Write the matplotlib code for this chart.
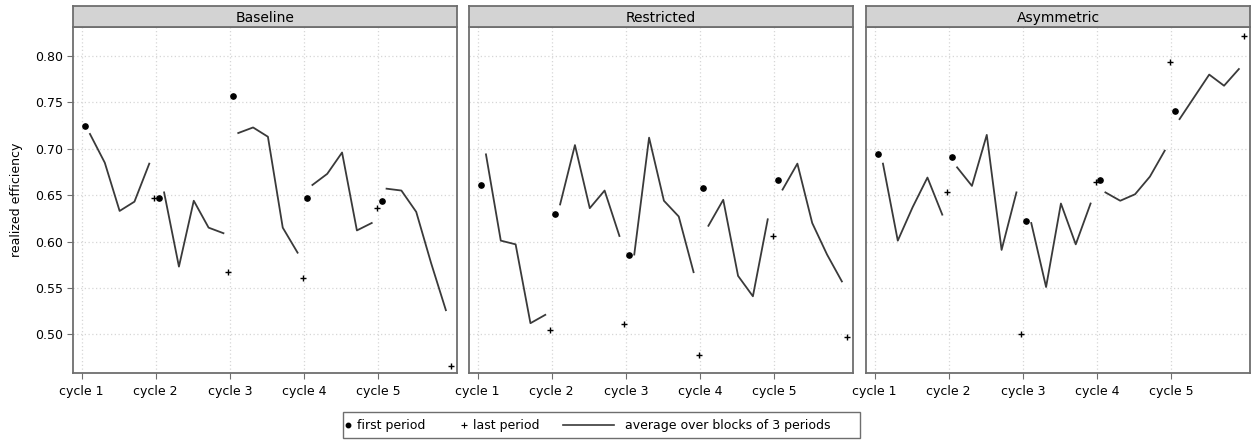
"""
Realized efficiency per cycle, three treatments (facet panels).
"""

import matplotlib
matplotlib.use("Agg")
import matplotlib.pyplot as plt
from matplotlib.lines import Line2D
from matplotlib.patches import Rectangle


# === DATA ===
PANELS = ["Baseline", "Restricted", "Asymmetric"]
CYCLE_LABELS = ["cycle 1", "cycle 2", "cycle 3", "cycle 4", "cycle 5"]
PERIODS_PER_CYCLE = 15
BLOCK_CENTERS = [2, 5, 8, 11, 14]  # period within cycle, blocks of 3

first_baseline = [0.725, 0.647, 0.757, 0.647, 0.644]
last_baseline = [0.647, 0.567, 0.561, 0.636, 0.466]
avg_baseline = [
    [0.716, 0.685, 0.633, 0.643, 0.684],
    [0.653, 0.573, 0.644, 0.615, 0.609],
    [0.717, 0.723, 0.713, 0.615, 0.588],
    [0.661, 0.673, 0.696, 0.612, 0.620],
    [0.657, 0.655, 0.632, 0.577, 0.526],
]

first_restricted = [0.661, 0.630, 0.585, 0.658, 0.666]
last_restricted = [0.505, 0.511, 0.478, 0.606, 0.497]
avg_restricted = [
    [0.694, 0.601, 0.597, 0.512, 0.521],
    [0.640, 0.704, 0.636, 0.655, 0.606],
    [0.586, 0.712, 0.644, 0.627, 0.567],
    [0.617, 0.645, 0.563, 0.541, 0.624],
    [0.656, 0.684, 0.620, 0.586, 0.557],
]

first_asym = [0.694, 0.691, 0.622, 0.666, 0.741]
last_asym = [0.653, 0.500, 0.664, 0.794, 0.822]
avg_asym = [
    [0.684, 0.601, 0.637, 0.669, 0.629],
    [0.680, 0.660, 0.715, 0.591, 0.653],
    [0.620, 0.551, 0.641, 0.597, 0.641],
    [0.653, 0.644, 0.651, 0.670, 0.698],
    [0.732, 0.756, 0.780, 0.768, 0.786],
]

FIRST = [first_baseline, first_restricted, first_asym]
LAST = [last_baseline, last_restricted, last_asym]
AVG = [avg_baseline, avg_restricted, avg_asym]

Y_TICKS = [0.50, 0.55, 0.60, 0.65, 0.70, 0.75, 0.80]

# === LAYOUT (pixels) ===
W, H = 1253, 447
PANEL_LEFT = [73, 469, 866]
PANEL_W = 384
PLOT_TOP, PLOT_BOT = 27, 373
STRIP_TOP = 6

FRAME = "#6e6e6e"
GRID = "#d6d6d6"
LINE = "#3a3a3a"

plt.rcParams["font.family"] = "DejaVu Sans"
plt.rcParams["font.size"] = 9

fig = plt.figure(figsize=(W / 100, H / 100), dpi=100)


def frac(x0, y0, x1, y1):
    return [x0 / W, 1 - y1 / H, (x1 - x0) / W, (y1 - y0) / H]


for i, name in enumerate(PANELS):
    x0 = PANEL_LEFT[i]
    ax = fig.add_axes(frac(x0, PLOT_TOP, x0 + PANEL_W, PLOT_BOT))
    strip = fig.add_axes(frac(x0, STRIP_TOP, x0 + PANEL_W, PLOT_TOP))

    for c in range(5):
        base = c * PERIODS_PER_CYCLE
        xs = [base + b for b in BLOCK_CENTERS]
        ax.plot(xs, AVG[i][c], color=LINE, lw=1.3, zorder=3)
        ax.plot(base + 1, FIRST[i][c], "o", color="black", ms=3.8, zorder=4)
        ax.plot(base + PERIODS_PER_CYCLE, LAST[i][c], "+", color="black",
                ms=5, mew=1.0, zorder=4)

    cycle_ticks = [c * PERIODS_PER_CYCLE + 0.3 for c in range(5)]
    ax.set_xticks(cycle_ticks)
    ax.set_xticklabels(CYCLE_LABELS)
    ax.set_yticks(Y_TICKS)
    ax.set_xlim(-1.43, 76.25)
    ax.set_ylim(0.4583, 0.8313)
    ax.grid(True, color=GRID, ls=(0, (1, 2)), lw=0.9)
    ax.set_axisbelow(True)
    for sp in ax.spines.values():
        sp.set_color(FRAME)
        sp.set_linewidth(1.3)
    ax.tick_params(axis="x", direction="out", length=4, color=FRAME,
                   pad=5, labelsize=9)
    if i == 0:
        ax.set_yticklabels([f"{v:.2f}" for v in Y_TICKS])
        ax.tick_params(axis="y", direction="out", length=4, color=FRAME,
                       pad=3, labelsize=9)
        ax.set_ylabel("realized efficiency", fontsize=9, labelpad=9)
    else:
        ax.tick_params(axis="y", left=False, labelleft=False)

    strip.set_facecolor("#d3d3d3")
    strip.set_xticks([])
    strip.set_yticks([])
    for sp in strip.spines.values():
        sp.set_color(FRAME)
        sp.set_linewidth(1.3)
    strip.text(0.5, 0.45, name, ha="center", va="center", fontsize=10,
               transform=strip.transAxes)

# legend, laid out by hand in figure pixels
ly = 1 - 425 / H
fig.patches.append(Rectangle((343 / W, 1 - 438 / H), (860 - 343) / W, 26 / H,
                             transform=fig.transFigure, fill=False,
                             edgecolor=FRAME, lw=1.0))
fig.lines.append(Line2D([348 / W], [ly], marker="o", color="black", ms=3.2,
                        transform=fig.transFigure))
fig.text(357 / W, ly, "first period", va="center", fontsize=9)
fig.lines.append(Line2D([464 / W], [ly], marker="+", color="black", ms=4,
                        mew=0.8, transform=fig.transFigure))
fig.text(473 / W, ly, "last period", va="center", fontsize=9)
fig.lines.append(Line2D([563 / W, 614 / W], [ly, ly], color=LINE, lw=1.2,
                        transform=fig.transFigure))
fig.text(625 / W, ly, "average over blocks of 3 periods", va="center",
         fontsize=9)

fig.savefig("out.png", dpi=100)
